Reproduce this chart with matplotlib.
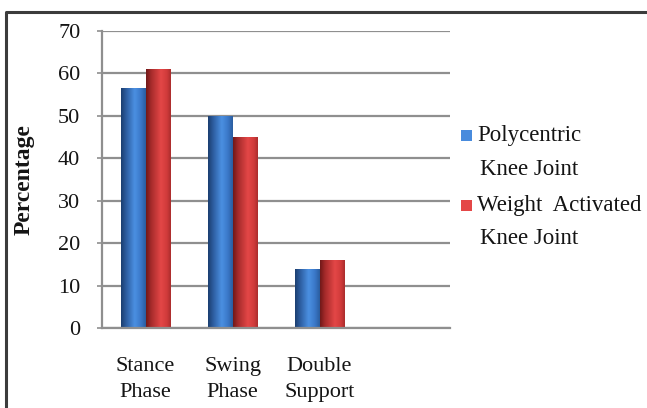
import numpy as np
import matplotlib
matplotlib.use("Agg")
import matplotlib.pyplot as plt
from matplotlib.colors import LinearSegmentedColormap
from matplotlib.lines import Line2D
from matplotlib.patches import Rectangle

# gait phase share (%) for the two knee joints
categories = ["Stance\nPhase", "Swing\nPhase", "Double\nSupport"]
polycentric = [56.5, 50, 14]
weight_activated = [61, 45, 16]
series_names = ["Polycentric\nKnee Joint", "Weight  Activated\nKnee Joint"]
yticks = [0, 10, 20, 30, 40, 50, 60, 70]

plt.rcParams["font.family"] = ["Liberation Serif", "DejaVu Serif"]
TEXT = "#141414"
GRID = "#8f8f8f"

blue_cmap = LinearSegmentedColormap.from_list(
    "blue_bar", [(0, "#1b3d6e"), (0.2, "#2c5c9e"), (0.55, "#4b90e2"),
                 (0.8, "#3a78c8"), (1, "#2a5c9e")])
red_cmap = LinearSegmentedColormap.from_list(
    "red_bar", [(0, "#6e1818"), (0.2, "#a52a2a"), (0.6, "#e44747"),
                (0.85, "#cf3a3a"), (1, "#a82c2c")])
grad = np.linspace(0, 1, 256).reshape(1, -1)

W, H = 647, 408
fig = plt.figure(figsize=(W / 100, H / 100), dpi=100)
ax = fig.add_axes([102 / W, 80 / H, 348 / W, 297 / H])

x = np.arange(len(categories))
w = 0.283
groups = [
    (ax.bar(x - w / 2, polycentric, w, color="none", zorder=2), blue_cmap),
    (ax.bar(x + w / 2, weight_activated, w, color="none", zorder=2), red_cmap),
]

# horizontal shading inside each bar
for bars, cmap in groups:
    for p in bars:
        x0, h, bw = p.get_x(), p.get_height(), p.get_width()
        im = ax.imshow(grad, cmap=cmap, extent=[x0, x0 + bw, 0, h],
                       aspect="auto", interpolation="bicubic", zorder=2)
        im.set_clip_path(p)

ax.set_xlim(-0.5, 3.5)
ax.set_ylim(0, 70)
ax.set_yticks(yticks)
ax.set_xticks(x)
ax.set_xticklabels(categories, fontsize=16, color=TEXT, linespacing=1.5)
ax.tick_params(axis="x", length=0, pad=21)
ax.tick_params(axis="y", length=3.6, width=1.2, color=GRID, pad=12,
               labelsize=16, labelcolor=TEXT)
ax.yaxis.grid(True, color=GRID, lw=1.6)
ax.set_axisbelow(True)
for s in ["top", "right"]:
    ax.spines[s].set_visible(False)
for s in ["left", "bottom"]:
    ax.spines[s].set_color(GRID)
    ax.spines[s].set_linewidth(1.6)

fig.text(24 / W, 1 - 180 / H, "Percentage", rotation=90, fontsize=17,
         fontweight="bold", color=TEXT, ha="center", va="center")

# legend drawn by hand: square marker beside the first line of each entry
legend_y = [135, 205]
for name, cmap, yy in zip(series_names, [blue_cmap, red_cmap], legend_y):
    fig.add_artist(Rectangle((461 / W, 1 - (yy + 5.5) / H), 11 / W, 11 / H,
                             transform=fig.transFigure,
                             color=cmap(0.6), lw=0))
    first, second = name.split("\n")
    fig.text(477 / W, 1 - yy / H, first, fontsize=16.5, color=TEXT,
             ha="left", va="center")
    fig.text(480 / W, 1 - (yy + 34) / H, second, fontsize=16.5, color=TEXT,
             ha="left", va="center")

# outer chart frame (left and top edges)
fig.add_artist(Line2D([6 / W, 6 / W, 1], [0, 1 - 12 / H, 1 - 12 / H],
                      transform=fig.transFigure, color="#3c3c3c", lw=2.2))

fig.savefig("out.png", dpi=100)
